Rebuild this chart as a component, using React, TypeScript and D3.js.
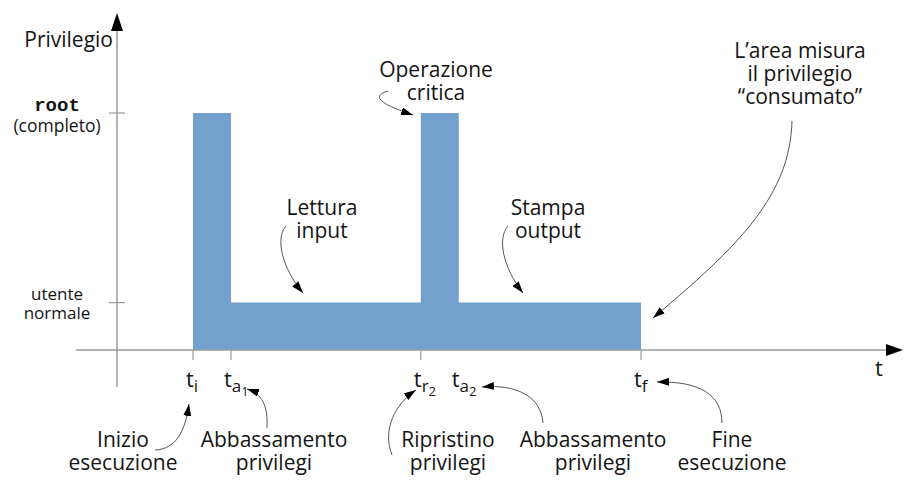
import React from 'react';
import * as d3 from 'd3';

// Event times (arbitrary units) and the subscripts of their labels
const TIMES = [0, 1, 6, 7, 11.8];
const TIME_SUBS = [['i'], ['a', '1'], ['r', '2'], ['a', '2'], ['f']];
const TIME_TICKS = [true, true, true, false, true];
// Privilege level held from each time on (0 = none)
const PRIVILEGE = [5, 1, 5, 1, 1];
// Levels marked on the vertical axis
const LEVELS = [5, 1];

const W = 913;
const H = 486;
const FONT = '"Open Sans", "Noto Sans", sans-serif';
const BLUE = '#74a0ce';
const AXIS = '#9a9a9a';
const INK = '#141414';

const x = d3.scaleLinear().domain([0, 11.8]).range([193, 641]);
const y = d3.scaleLinear().domain([0, 5]).range([350, 113]);

const X0 = 117; // vertical axis position

// annotation texts (centre x, first baseline) and their arrows
const NOTES = [
  { lines: ['Operazione', 'critica'], cx: 436, y: 77, path: 'M388,91 C368,97 386,106 413,115' },
  { lines: ['Lettura', 'input'], cx: 322, y: 215, path: 'M286,226 C275,238 282,268 303,293' },
  { lines: ['Stampa', 'output'], cx: 548, y: 215, path: 'M508,226 C497,238 503,268 523,293' },
  { lines: ['L\u2019area misura', 'il privilegio', '\u201Cconsumato\u201D'], cx: 800, y: 58, path: 'M792,121 C790,195 740,245 653,318' },
  { lines: ['Inizio', 'esecuzione'], cx: 123, y: 447, path: 'M155,450 C176,449 185,432 189,404' },
  { lines: ['Abbassamento', 'privilegi'], cx: 274, y: 447, path: 'M267,428 C268,405 262,394 247,389' },
  { lines: ['Ripristino', 'privilegi'], cx: 448, y: 447, path: 'M392,455 C382,430 395,404 416,390' },
  { lines: ['Abbassamento', 'privilegi'], cx: 593, y: 447, path: 'M543,423 C541,396 516,384 482,387' },
  { lines: ['Fine', 'esecuzione'], cx: 732, y: 447, path: 'M722,423 C722,395 700,381 657,382' },
];

function TimeLabel({ t, subs }: { t: number; subs: string[] }) {
  return (
    <text x={x(t) - 7} y={387} fontFamily={FONT} fontSize={22} fill={INK}>
      t
      <tspan fontSize={17} dy={5}>{subs[0]}</tspan>
      {subs[1] && <tspan fontSize={13} dy={4}>{subs[1]}</tspan>}
    </text>
  );
}

export default function App() {
  const points = TIMES.map((t, i) => [t, PRIVILEGE[i]] as [number, number]);
  const area = d3
    .area<[number, number]>()
    .x((d) => x(d[0]))
    .y0(y(0))
    .y1((d) => y(d[1]))
    .curve(d3.curveStepAfter)(points);

  return (
    <svg
      width={W}
      height={H}
      style={{ position: 'absolute', left: 0, top: 0, background: '#fff' }}
    >
      <defs>
        <marker id="head" viewBox="0 0 12 8" refX={12} refY={4} markerWidth={12} markerHeight={8} markerUnits="userSpaceOnUse" orient="auto">
          <path d="M0,0 L12,4 L0,8 Z" fill="#000" />
        </marker>
      </defs>

      <path d={area || ''} fill={BLUE} />

      {/* axes */}
      <line x1={76} x2={888} y1={y(0)} y2={y(0)} stroke={AXIS} strokeWidth={1.5} />
      <path d={`M886,${y(0) - 6} L903,${y(0)} L886,${y(0) + 6} Z`} fill="#000" />
      <line x1={X0} x2={X0} y1={28} y2={387} stroke={AXIS} strokeWidth={1.5} />
      <path d={`M${X0 - 6},31 L${X0},13 L${X0 + 6},31 Z`} fill="#000" />

      {LEVELS.map((l) => (
        <line key={l} x1={X0 - 8} x2={X0 + 8} y1={y(l)} y2={y(l)} stroke={AXIS} strokeWidth={1.2} />
      ))}
      {TIMES.map((t, i) =>
        TIME_TICKS[i] ? (
          <line key={i} x1={x(t)} x2={x(t)} y1={y(0)} y2={y(0) + 10} stroke={AXIS} strokeWidth={1.2} />
        ) : null
      )}

      <text x={113} y={47} textAnchor="end" fontFamily={FONT} fontSize={21} fill={INK}>Privilegio</text>
      <text x={57} y={111} textAnchor="middle" fontFamily='"Liberation Mono", "DejaVu Sans Mono", monospace' fontWeight="bold" fontSize={19} fill={INK}>root</text>
      <text x={57} y={132} textAnchor="middle" fontFamily={FONT} fontSize={17.5} fill={INK}>(completo)</text>
      <text x={57} y={300} textAnchor="middle" fontFamily={FONT} fontSize={17} fill={INK}>utente</text>
      <text x={57} y={319} textAnchor="middle" fontFamily={FONT} fontSize={17} fill={INK}>normale</text>
      <text x={875} y={376} fontFamily={FONT} fontSize={22} fill={INK}>t</text>

      {TIMES.map((t, i) => (
        <TimeLabel key={i} t={t} subs={TIME_SUBS[i]} />
      ))}

      {NOTES.map((n, i) => (
        <g key={i}>
          {n.lines.map((s, j) => (
            <text key={j} x={n.cx} y={n.y + j * 23} textAnchor="middle" fontFamily={FONT} fontSize={21} fill={INK}>
              {s}
            </text>
          ))}
          <path d={n.path} fill="none" stroke="#555" strokeWidth={1} markerEnd="url(#head)" />
        </g>
      ))}
    </svg>
  );
}
